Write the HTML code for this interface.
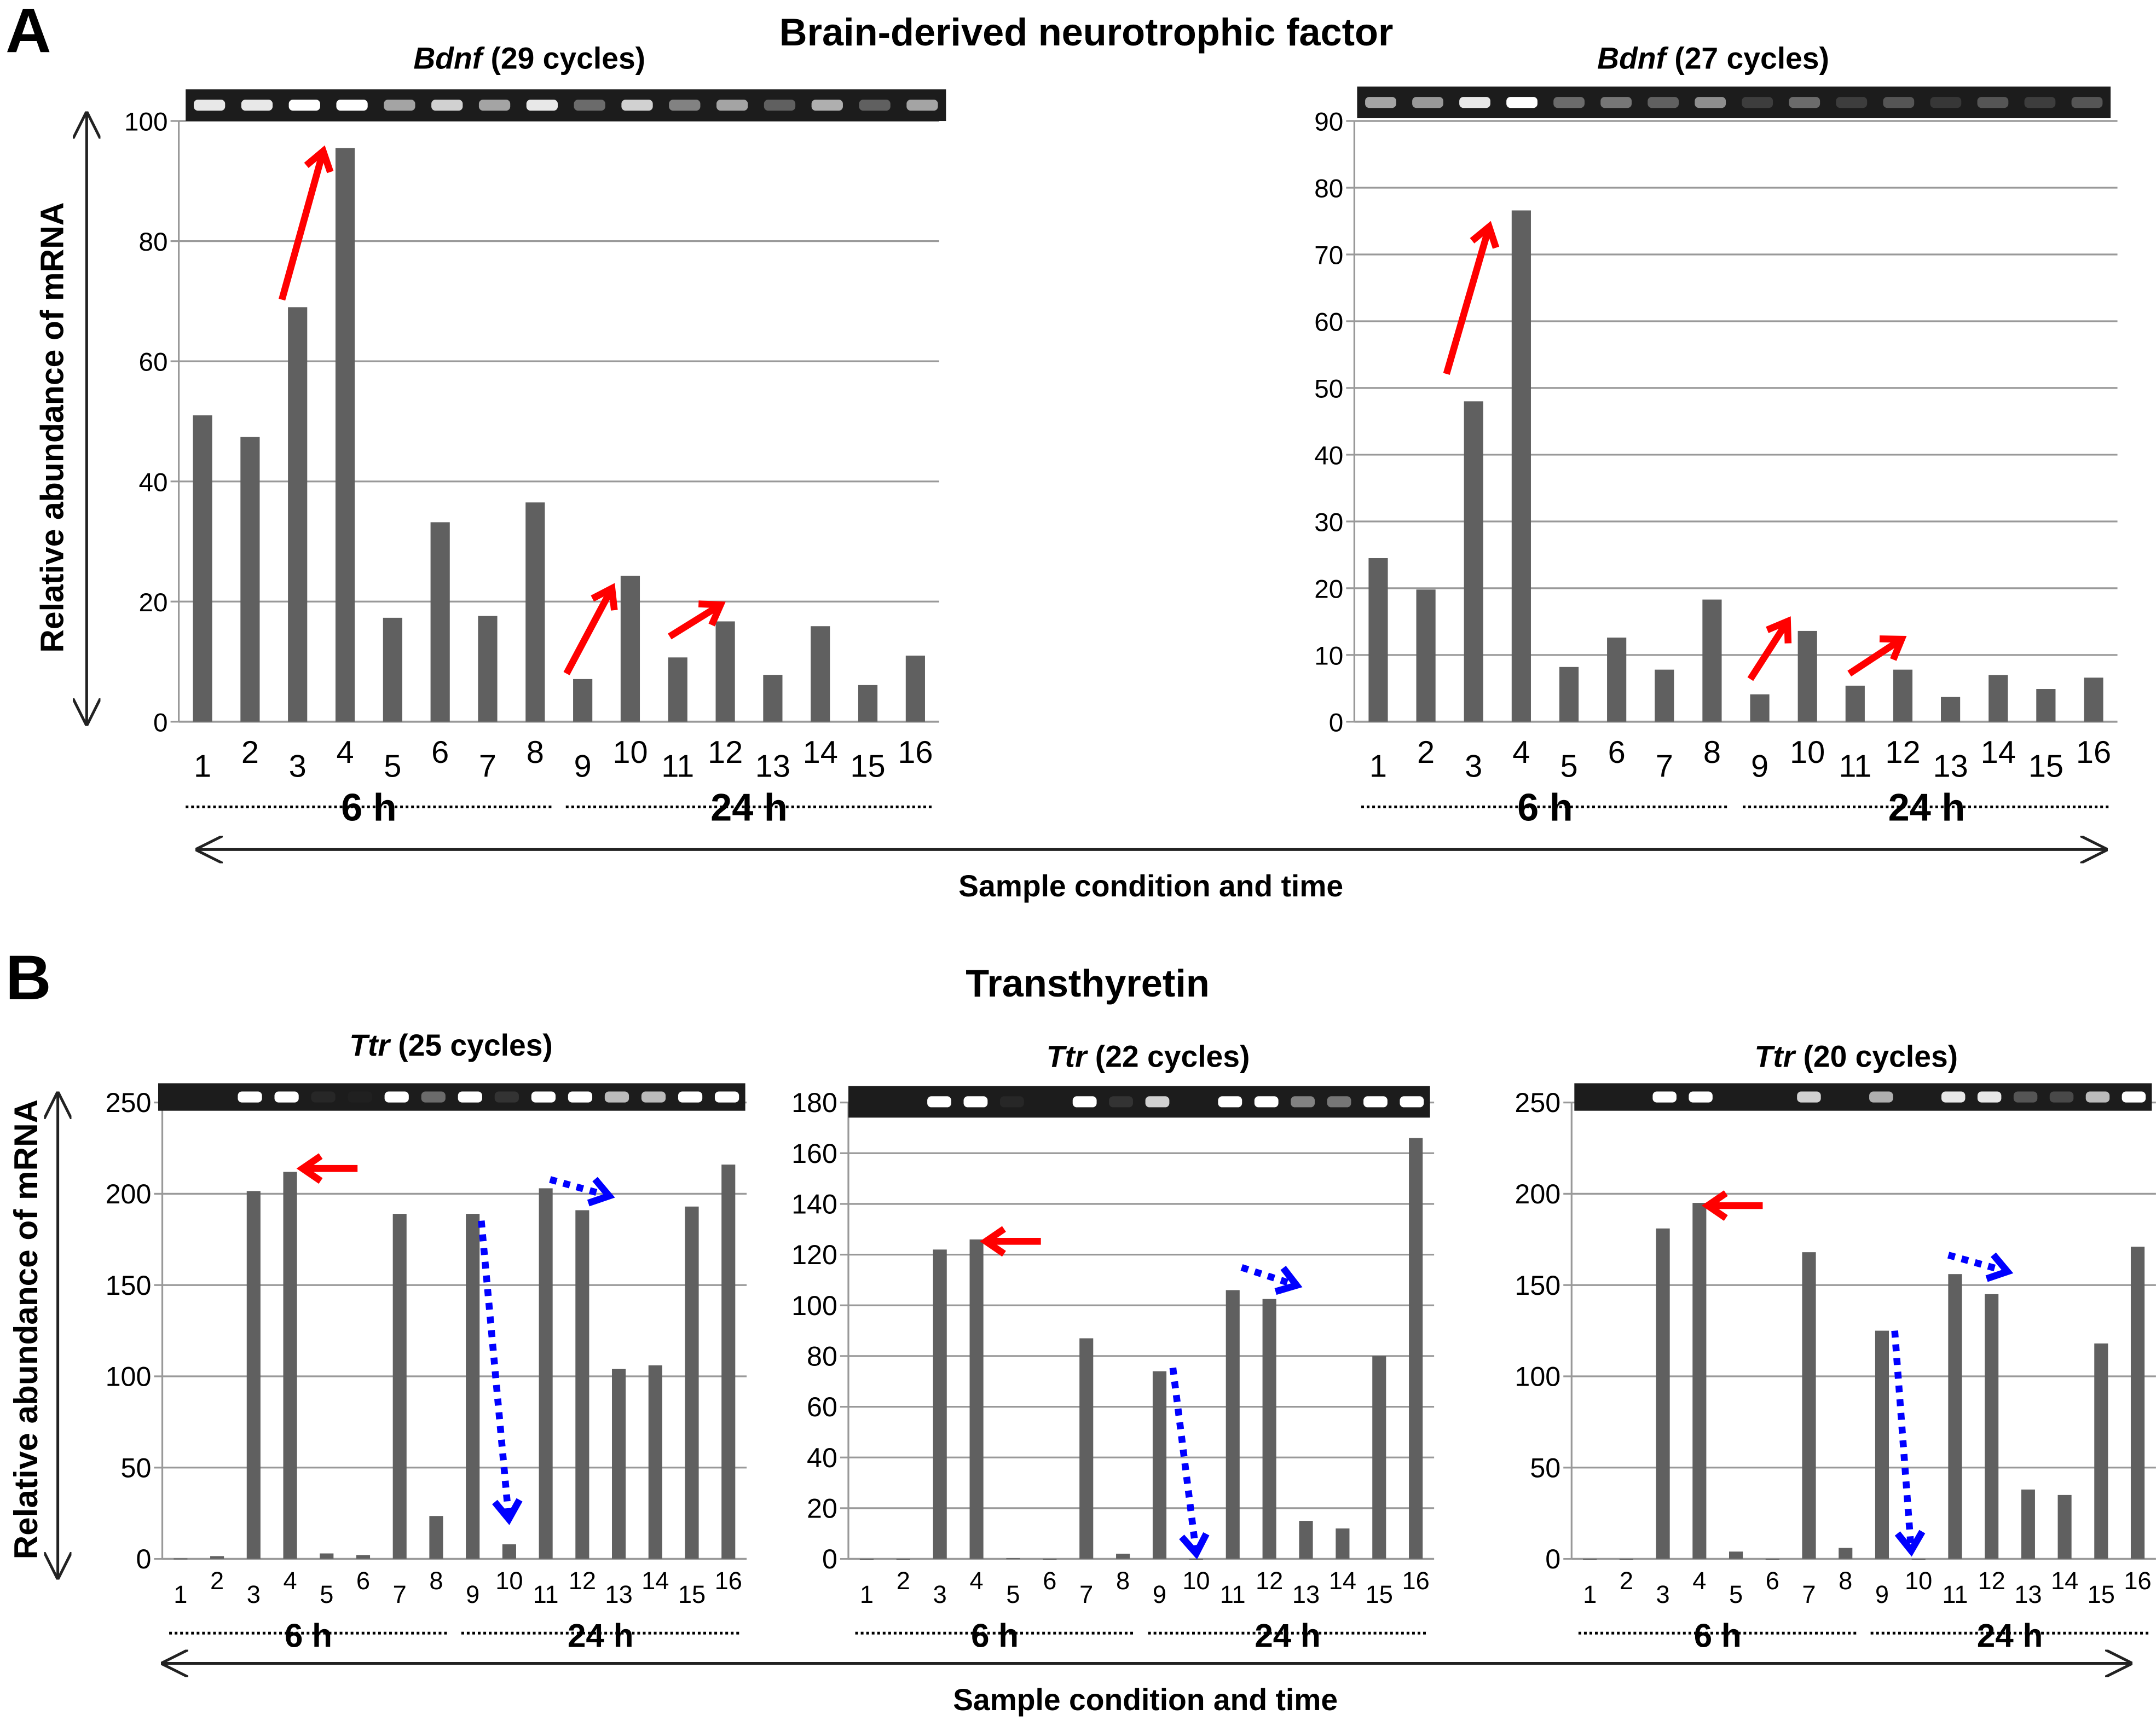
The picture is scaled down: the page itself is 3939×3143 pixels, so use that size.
<!DOCTYPE html>
<html><head><meta charset="utf-8"><style>
html,body{margin:0;padding:0;background:#fff;}
svg{display:block;}
text{font-family:"Liberation Sans",Arial,sans-serif;}
</style></head>
<body>
<svg id="fig" xmlns="http://www.w3.org/2000/svg" width="3939" height="3143" viewBox="0 0 1568 1251.2">
<defs>
<marker id="hd" viewBox="0 0 10 10" refX="9.5" refY="5" markerWidth="20" markerHeight="20" markerUnits="userSpaceOnUse" orient="auto-start-reverse"><path d="M0,0 L10,5 L0,10" fill="none" stroke="#222" stroke-width="1"/></marker>
</defs>
<text x="4" y="38" font-size="46" font-weight="bold">A</text>
<text x="790" y="33" font-size="28" font-weight="bold" text-anchor="middle">Brain-derived neurotrophic factor</text>
<text x="4" y="727" font-size="46" font-weight="bold">B</text>
<text x="791" y="725" font-size="28" font-weight="bold" text-anchor="middle">Transthyretin</text>

<line x1="63" y1="82" x2="63" y2="527" stroke="#222" stroke-width="2" marker-start="url(#hd)" marker-end="url(#hd)"/>
<text transform="translate(46,311) rotate(-90)" font-size="23.5" font-weight="bold" text-anchor="middle">Relative abundance of mRNA</text>
<line x1="143" y1="618" x2="1532" y2="618" stroke="#222" stroke-width="2" marker-start="url(#hd)" marker-end="url(#hd)"/>
<text x="837" y="652" font-size="22" font-weight="bold" text-anchor="middle">Sample condition and time</text>

<line x1="42" y1="795" x2="42" y2="1148" stroke="#222" stroke-width="2" marker-start="url(#hd)" marker-end="url(#hd)"/>
<text transform="translate(27,967) rotate(-90)" font-size="24" font-weight="bold" text-anchor="middle">Relative abundance of mRNA</text>
<line x1="118" y1="1210" x2="1550" y2="1210" stroke="#222" stroke-width="2" marker-start="url(#hd)" marker-end="url(#hd)"/>
<text x="833" y="1244" font-size="22" font-weight="bold" text-anchor="middle">Sample condition and time</text>
</svg>
<script>
const bdnf29 = [51,47.4,69,95.5,17.3,33.2,17.6,36.5,7.1,24.3,10.7,16.7,7.8,15.9,6.1,11];
const bdnf27 = [24.5,19.8,48,76.6,8.2,12.6,7.8,18.3,4.1,13.6,5.4,7.8,3.7,7,4.9,6.6];
const ttr25 = [0.3,1.5,201.5,212,3,2,189,23.5,189,8,203,191,104,106,193,216];
const ttr22 = [0,0,122,126,0.3,0,87,2,74,0,106,102.5,15,12,80,166];
const ttr20 = [0,0,181,195,4,0,168,6,125,0,156,145,38,35,118,171];
const bandsA1 = [0.9,0.9,1,1,0.6,0.8,0.6,0.9,0.35,0.8,0.45,0.6,0.3,0.65,0.3,0.6];
const bandsA2 = [0.6,0.55,0.9,1,0.35,0.4,0.3,0.5,0.15,0.35,0.15,0.25,0.12,0.25,0.15,0.25];
const bandsB1 = [0,0,1,1,0.05,0.02,1,0.35,1,0.1,1,1,0.7,0.7,1,1];
const bandsB2 = [0,0,1,1,0.05,0,1,0.1,0.8,0,1,1,0.45,0.4,1,1];
const bandsB3 = [0,0,1,1,0,0,0.8,0,0.65,0,0.9,0.9,0.25,0.2,0.7,1];
const ticksA1 = [0,20,40,60,80,100];
const ticksA2 = [0,10,20,30,40,50,60,70,80,90];
const ticksB1 = [0,50,100,150,200,250];
const ticksB2 = [0,20,40,60,80,100,120,140,160,180];
const ticksB3 = [0,50,100,150,200,250];
const labels = ['1','2','3','4','5','6','7','8','9','10','11','12','13','14','15','16'];

const NS='http://www.w3.org/2000/svg';
const svg=document.getElementById('fig');
function mk(tag,attrs,parent){const e=document.createElementNS(NS,tag);for(const k in attrs)e.setAttribute(k,attrs[k]);(parent||svg).appendChild(e);return e;}

function chart(o){
  const g=mk('g',{});
  
  
  const max=o.ticks[o.ticks.length-1];
  const y=v=>o.y0-(v/max)*(o.y0-o.yTop);
  const step=(o.x1-o.x0)/16;
  const x=i=>o.x0+step*(i+0.5);
  o.ticks.forEach(t=>{
    if(t>0){const l=mk('line',{x1:o.x0,x2:o.x1,y1:y(t),y2:y(t),stroke:'#999','stroke-width':1.3},g);
    
    }
    mk('line',{x1:o.x0-6,x2:o.x0,y1:y(t),y2:y(t),stroke:'#999','stroke-width':1.3},g);
    const tx=mk('text',{x:o.x0-8,y:y(t)+7,'font-size':o.fs,'text-anchor':'end'},g);
    tx.textContent=t;
    
    
  });
  mk('line',{x1:o.x0,x2:o.x0,y1:o.yTop,y2:o.y0,stroke:'#999','stroke-width':1.3},g);
  mk('line',{x1:o.x0,x2:o.x1,y1:o.y0,y2:o.y0,stroke:'#999','stroke-width':1.5},g);
  o.data.forEach((v,i)=>{
    const b=mk('rect',{x:x(i)-o.bw/2,y:y(v),width:o.bw,height:Math.max(o.y0-y(v),0.8),fill:'#606060'},g);
    
    
    const t=mk('text',{x:x(i),y:o.y0+(i%2===0?o.lblLo:o.lblHi),'font-size':o.lfs,'text-anchor':'middle'},g);
    t.textContent=labels[i];
    
    
  });
  const gel=mk('g',{},g);
  
  
  mk('rect',{x:o.gx0,y:o.gy0,width:o.gx1-o.gx0,height:o.gy1-o.gy0,fill:'#1c1c1c'},gel);
  const gs=(o.gx1-o.gx0)/16;
  o.bands.forEach((a,i)=>{
    if(a>0)mk('rect',{x:o.gx0+gs*(i+0.5)-gs*0.33,y:(o.gy0+o.gy1)/2-4,width:gs*0.66,height:8,rx:3,fill:'#fff',opacity:a},gel);
  });
  const tt=mk('text',{x:o.tx,y:o.ty,'font-size':o.tfs,'font-weight':'bold','text-anchor':'middle'},g);
  tt.innerHTML='<tspan font-style="italic">'+o.gene+'</tspan> ('+o.cyc+' cycles)';
  
  
  const mid=o.x0+step*8;
  [[o.x0+5,mid-5,'6 h'],[mid+5,o.x1-5,'24 h']].forEach(s=>{
    mk('line',{x1:s[0],x2:s[1],y1:o.dy,y2:o.dy,stroke:'#000','stroke-width':2,'stroke-dasharray':'2,2'},g);
    const t=mk('text',{x:(s[0]+s[1])/2,y:o.dy+10,'font-size':o.hfs,'font-weight':'bold','text-anchor':'middle'},g);
    t.textContent=s[2];
    
    
  });
}
chart({name:'chart-bdnf-29',data:bdnf29,ticks:ticksA1,bands:bandsA1,x0:130,x1:683,y0:525,yTop:88,bw:14,fs:19,lfs:23,lblLo:40,lblHi:30,gx0:135,gx1:688,gy0:65,gy1:88,tx:385,ty:50,tfs:22,gene:'Bdnf',cyc:29,dy:587,hfs:28});
chart({name:'chart-bdnf-27',data:bdnf27,ticks:ticksA2,bands:bandsA2,x0:985,x1:1540,y0:525,yTop:88,bw:14,fs:19,lfs:23,lblLo:40,lblHi:30,gx0:987,gx1:1535,gy0:63,gy1:86,tx:1246,ty:50,tfs:22,gene:'Bdnf',cyc:27,dy:587,hfs:28});
chart({name:'chart-ttr-25',data:ttr25,ticks:ticksB1,bands:bandsB1,x0:118,x1:543,y0:1134,yTop:802,bw:10,fs:20,lfs:18,lblLo:32,lblHi:22,gx0:115,gx1:542,gy0:788,gy1:808,tx:328,ty:768,tfs:22,gene:'Ttr',cyc:25,dy:1188,hfs:24});
chart({name:'chart-ttr-22',data:ttr22,ticks:ticksB2,bands:bandsB2,x0:617,x1:1043,y0:1134,yTop:802,bw:10,fs:20,lfs:18,lblLo:32,lblHi:22,gx0:617,gx1:1040,gy0:790,gy1:813,tx:835,ty:776,tfs:22,gene:'Ttr',cyc:22,dy:1188,hfs:24});
chart({name:'chart-ttr-20',data:ttr20,ticks:ticksB3,bands:bandsB3,x0:1143,x1:1568,y0:1134,yTop:802,bw:10,fs:20,lfs:18,lblLo:32,lblHi:22,gx0:1145,gx1:1565,gy0:788,gy1:808,tx:1350,ty:776,tfs:22,gene:'Ttr',cyc:20,dy:1188,hfs:24});

function arrow(x1,y1,x2,y2,color,dashed,name){
  const g=mk('g',{});
  
  
  const ang=Math.atan2(y2-y1,x2-x1),h=16;
  mk('line',{x1:x1,y1:y1,x2:x2-Math.cos(ang)*2,y2:y2-Math.sin(ang)*2,stroke:color,'stroke-width':5,'stroke-dasharray':dashed?'5,5':'none'},g);
  const p=[[x2-h*Math.cos(ang-0.6),y2-h*Math.sin(ang-0.6)],[x2,y2],[x2-h*Math.cos(ang+0.6),y2-h*Math.sin(ang+0.6)]];
  mk('polyline',{points:p.map(q=>q.join(',')).join(' '),fill:'none',stroke:color,'stroke-width':5},g);
}
arrow(205,218,235,110,'#f00',false,'red-arrow');
arrow(412,490,445,428,'#f00',false,'red-arrow');
arrow(487,463,524,440,'#f00',false,'red-arrow');
arrow(1052,272,1083,165,'#f00',false,'red-arrow');
arrow(1273,494,1300,452,'#f00',false,'red-arrow');
arrow(1345,490,1383,465,'#f00',false,'red-arrow');
arrow(260,850,220,850,'#f00',false,'red-arrow');
arrow(757,903,717,903,'#f00',false,'red-arrow');
arrow(1282,877,1242,877,'#f00',false,'red-arrow');
arrow(350,888,370,1105,'#00f',true,'blue-dotted-arrow');
arrow(400,858,443,870,'#00f',true,'blue-dotted-arrow');
arrow(853,995,870,1130,'#00f',true,'blue-dotted-arrow');
arrow(903,922,943,935,'#00f',true,'blue-dotted-arrow');
arrow(1378,968,1390,1128,'#00f',true,'blue-dotted-arrow');
arrow(1417,913,1460,925,'#00f',true,'blue-dotted-arrow');
</script>
</body></html>
